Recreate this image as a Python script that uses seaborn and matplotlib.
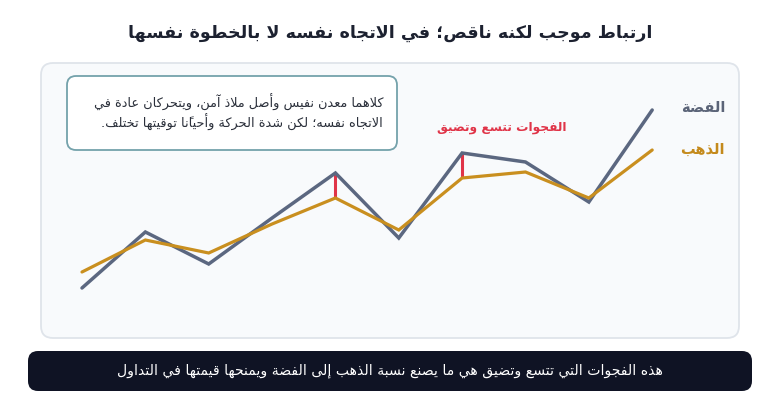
import numpy as np
import pandas as pd
import seaborn as sns
import matplotlib.pyplot as plt
from matplotlib.patches import FancyBboxPatch

# --- data (normalised index) ---
periods = list(range(10))
silver = [6, 34, 18, 41, 63.5, 31, 73.5, 69, 49, 95]
gold = [14, 30, 23.5, 38, 51, 35, 61, 64, 51, 75]
gap_points = [4, 6]

title = "ارتباط موجب لكنه ناقص؛ في الاتجاه نفسه لا بالخطوة نفسها"
note_lines = ["كلاهما معدن نفيس وأصل ملاذ آمن، ويتحركان عادة في",
              "الاتجاه نفسه؛ لكن شدة الحركة وأحيانًا توقيتها تختلف."]
gap_label = "الفجوات تتسع وتضيق"
silver_label = "الفضة"
gold_label = "الذهب"
footer = "هذه الفجوات التي تتسع وتضيق هي ما يصنع نسبة الذهب إلى الفضة ويمنحها قيمتها في التداول"

# --- tiny arabic shaper (matplotlib has no complex text layout) ---
DUAL_START = {'ئ': 0xFE89, 'ب': 0xFE8F, 'ت': 0xFE95, 'ث': 0xFE99, 'ج': 0xFE9D, 'ح': 0xFEA1,
              'خ': 0xFEA5, 'س': 0xFEB1, 'ش': 0xFEB5, 'ص': 0xFEB9, 'ض': 0xFEBD, 'ط': 0xFEC1,
              'ظ': 0xFEC5, 'ع': 0xFEC9, 'غ': 0xFECD, 'ف': 0xFED1, 'ق': 0xFED5, 'ك': 0xFED9,
              'ل': 0xFEDD, 'م': 0xFEE1, 'ن': 0xFEE5, 'ه': 0xFEE9, 'ي': 0xFEF1}
RIGHT_START = {'آ': 0xFE81, 'أ': 0xFE83, 'ؤ': 0xFE85, 'إ': 0xFE87, 'ا': 0xFE8D, 'ة': 0xFE93,
               'د': 0xFEA9, 'ذ': 0xFEAB, 'ر': 0xFEAD, 'ز': 0xFEAF, 'و': 0xFEED, 'ى': 0xFEEF}
LAM_ALEF = {'آ': 0xFEF5, 'أ': 0xFEF7, 'إ': 0xFEF9, 'ا': 0xFEFB}
MARKS = set(chr(c) for c in range(0x064B, 0x0653))


def shape(text):
    toks = []
    i = 0
    while i < len(text):
        c = text[i]
        if c in MARKS and toks:
            toks[-1][1] += c
        elif c == 'ل' and i + 1 < len(text) and text[i + 1] in LAM_ALEF:
            toks.append([('LA', LAM_ALEF[text[i + 1]]), ''])
            i += 1
        else:
            toks.append([c, ''])
        i += 1

    def jt(c):
        if isinstance(c, tuple) or c in RIGHT_START:
            return 'R'
        return 'D' if c in DUAL_START else 'U'

    out = []
    for k, (c, m) in enumerate(toks):
        t = jt(c)
        prev_ok = k > 0 and jt(toks[k - 1][0]) == 'D' and t in 'DR'
        next_ok = k + 1 < len(toks) and jt(toks[k + 1][0]) in 'DR' and t == 'D'
        if t == 'U':
            g = c
        elif isinstance(c, tuple):
            g = chr(c[1] + (1 if prev_ok else 0))
        elif t == 'R':
            g = chr(RIGHT_START[c] + (1 if prev_ok else 0))
        else:
            off = {(False, False): 0, (True, False): 1, (False, True): 2, (True, True): 3}[(prev_ok, next_ok)]
            g = chr(DUAL_START[c] + off)
        out.append(g + m)
    return ''.join(reversed(out))


df = pd.DataFrame({'period': periods * 2,
                   'value': silver + gold,
                   'metal': ['silver'] * 10 + ['gold'] * 10})

sns.set_style("white")
plt.rcParams['font.family'] = ['DejaVu Sans']

W, H = 780, 403
fig = plt.figure(figsize=(W / 100, H / 100), dpi=100)
fig.patch.set_facecolor('white')

# background axes in pixel units for the decorative boxes
bg = fig.add_axes([0, 0, 1, 1])
bg.set_xlim(0, W)
bg.set_ylim(H, 0)
bg.axis('off')
bg.add_patch(FancyBboxPatch((41, 63), 698, 275, boxstyle="round,pad=0,rounding_size=12",
                            fc='#f8fafc', ec='#dfe4ea', lw=1.3))
bg.add_patch(FancyBboxPatch((67, 76), 330, 74, boxstyle="round,pad=0,rounding_size=9",
                            fc='white', ec='#74a2ab', lw=1.3))
bg.add_patch(FancyBboxPatch((28, 351), 724, 40, boxstyle="round,pad=0,rounding_size=10",
                            fc='#0f1324', ec='none'))
bg.text(390, 33, shape(title), ha='center', va='center', fontsize=12.6,
        fontweight='bold', color='#1c2130')
bg.text(383, 102, shape(note_lines[0]), ha='right', va='center', fontsize=9.3, color='#2a2f3a')
bg.text(383, 122, shape(note_lines[1]), ha='right', va='center', fontsize=9.3, color='#2a2f3a')
bg.text(390, 371, shape(footer), ha='center', va='center', fontsize=10.1, color='white')

# data axes
ax = fig.add_axes([41 / W, 1 - 338 / H, 698 / W, 275 / H])
ax.patch.set_alpha(0)
sns.lineplot(data=df, x='period', y='value', hue='metal',
             palette={'silver': '#5b6780', 'gold': '#c98f1f'},
             ax=ax, legend=False, sort=False)
for line, lw in zip(ax.lines, [2.5, 2.3]):
    line.set_linewidth(lw)
    line.set_solid_joinstyle('miter')
ax.vlines(gap_points, [gold[i] for i in gap_points], [silver[i] for i in gap_points],
          color='#e03448', lw=2.2, zorder=1)
ax.set_xlim(-0.647, 10.37)
ax.set_ylim(-19, 118.5)
ax.axis('off')

ax.text(10.15, silver[-1] + 1, shape(silver_label), ha='right', va='center',
        fontsize=10.5, fontweight='bold', color='#5b6478')
ax.text(10.15, gold[-1] + 0.5, shape(gold_label), ha='right', va='center',
        fontsize=10.5, fontweight='bold', color='#c48a1c')
ax.text(6.63, 86.5, shape(gap_label), ha='center', va='center',
        fontsize=8.8, fontweight='bold', color='#e03448')

fig.savefig('out.png', dpi=100)
